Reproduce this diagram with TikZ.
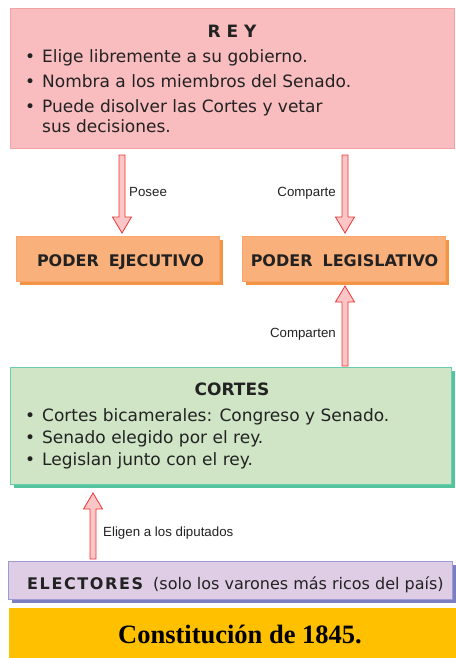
\documentclass[tikz,border=0pt]{standalone}
\usepackage{fontspec}
\setmainfont{DejaVu Sans}
\newfontfamily\labelfont{Liberation Sans}
\newfontfamily\bandfont{Liberation Serif}
\newfontfamily\spacedfont{DejaVu Sans}[LetterSpace=10]
\usetikzlibrary{calc,shadows}

\definecolor{reyFill}{HTML}{F9BCBF}
\definecolor{reyLine}{HTML}{F4A3A5}
\definecolor{poderFill}{HTML}{F9B07A}
\definecolor{poderLine}{HTML}{FAA46A}
\definecolor{poderShadow}{HTML}{F39445}
\definecolor{cortesFill}{HTML}{CFE5C6}
\definecolor{cortesLine}{HTML}{6BCDAA}
\definecolor{cortesShadow}{HTML}{52C39D}
\definecolor{electFill}{HTML}{DFCDE5}
\definecolor{electLine}{HTML}{9C9BD3}
\definecolor{electShadow}{HTML}{7D7DC2}
\definecolor{bandYellow}{HTML}{FFC000}
\definecolor{arrowLine}{HTML}{EE3434}
\definecolor{arrowFill}{HTML}{FCC6C6}
\definecolor{textDark}{HTML}{222222}

\newcommand{\blt}{\makebox[17pt][l]{\textbullet}}

\begin{document}
\begin{tikzpicture}
[x=1pt, y=-1pt,
 boxDecorate/.style={draw, line width=1pt, inner sep=0pt, anchor=north west},
 shadowDecorate/.style={general shadow={fill=#1, shadow xshift=3pt, shadow yshift=-3pt}},
 titleDecorate/.style={anchor=base, inner sep=0pt, text=textDark, font=\fontsize{17}{20}\selectfont\bfseries},
 itemDecorate/.style={anchor=base west, inner sep=0pt, text=textDark, font=\fontsize{17}{20}\selectfont},
 poderDecorate/.style={anchor=base, inner sep=0pt, text=textDark, font=\fontsize{16}{19}\selectfont\bfseries},
 labelDecorate/.style={inner sep=0pt, text=textDark, font=\labelfont\fontsize{13.3}{16}\selectfont},
 arrowDecorate/.style={draw=arrowLine, fill=arrowFill, line width=0.8pt, line join=miter}]

\useasboundingbox (0,0) rectangle (455,658);

% boxes
\node (rey) [boxDecorate, draw=reyLine, fill=reyFill, minimum width=444pt, minimum height=140pt] at (10,8) {};
\node (ejec) [boxDecorate, draw=poderLine, fill=poderFill, shadowDecorate=poderShadow, minimum width=203pt, minimum height=45pt] at (16,236) {};
\node (legis) [boxDecorate, draw=poderLine, fill=poderFill, shadowDecorate=poderShadow, minimum width=203pt, minimum height=45pt] at (242,236) {};
\node (cortes) [boxDecorate, draw=cortesLine, fill=cortesFill, shadowDecorate=cortesShadow, minimum width=441pt, minimum height=117pt] at (10,367) {};
\node (elect) [boxDecorate, draw=electLine, fill=electFill, shadowDecorate=electShadow, minimum width=444pt, minimum height=38pt] at (8,561) {};
\node (band) [boxDecorate, draw=none, fill=bandYellow, minimum width=447pt, minimum height=51pt] at (8,607) {};

% texts
\node (reyTitle) [titleDecorate] at (232,38) {R E Y};
\node (reyA) [itemDecorate] at (25,63) {\blt Elige libremente a su gobierno.};
\node (reyB) [itemDecorate] at (25,88) {\blt Nombra a los miembros del Senado.};
\node (reyC) [itemDecorate] at (25,113) {\blt Puede disolver las Cortes y vetar};
\node (reyD) [itemDecorate] at (42,132) {sus decisiones.};

\node (ejecText) [poderDecorate] at (120.5,266) {PODER\hspace{10pt}EJECUTIVO};
\node (legisText) [poderDecorate] at (344.5,266) {PODER\hspace{10pt}LEGISLATIVO};

\node (cortesTitle) [titleDecorate] at (232,395) {CORTES};
\node (cortesA) [itemDecorate] at (25,421.5) {\blt Cortes bicamerales: Congreso y Senado.};
\node (cortesB) [itemDecorate] at (25,443) {\blt Senado elegido por el rey.};
\node (cortesC) [itemDecorate] at (25,465) {\blt Legislan junto con el rey.};

\node (electTitle) [anchor=base west, inner sep=0pt, text=textDark, font=\spacedfont\fontsize{16}{19}\selectfont\bfseries] at (27,589) {ELECTORES};
\node (electNote) [anchor=base west, inner sep=0pt, text=textDark, font=\fontsize{16}{19}\selectfont] at (153,589) {(solo los varones más ricos del país)};

\node (bandText) [anchor=base, inner sep=0pt, font=\bandfont\fontsize{26.5}{30}\selectfont\bfseries] at (240,643) {Constitución de 1845.};

% arrows
\coordinate (poseeS) at (122,155);
\coordinate (poseeE) at (122,233);
\coordinate (comparteS) at (345,155);
\coordinate (comparteE) at (345,233);
\coordinate (compartenS) at (345,366);
\coordinate (compartenE) at (345,286);
\coordinate (eligenS) at (93,559);
\coordinate (eligenE) at (93,493);

\foreach \startnode/\endnode in {poseeS/poseeE, comparteS/comparteE, compartenS/compartenE, eligenS/eligenE}
{
  \coordinate (headBase) at ($(\endnode)!16pt!(\startnode)$);
  \draw[arrowDecorate] ($(\startnode)!3pt!90:(\endnode)$) -- ($(headBase)!3pt!90:(\endnode)$)
    -- ($(headBase)!9.5pt!90:(\endnode)$) -- (\endnode) -- ($(headBase)!9.5pt!-90:(\endnode)$)
    -- ($(headBase)!3pt!-90:(\endnode)$) -- ($(\startnode)!3pt!-90:(\endnode)$) -- cycle;
}

\node (posee) [labelDecorate, anchor=base west] at (129,196) {Posee};
\node (comparte) [labelDecorate, anchor=base east] at (336,196) {Comparte};
\node (comparten) [labelDecorate, anchor=base east] at (336,337) {Comparten};
\node (eligen) [labelDecorate, anchor=base west] at (103,536) {Eligen a los diputados};
\end{tikzpicture}
\end{document}
